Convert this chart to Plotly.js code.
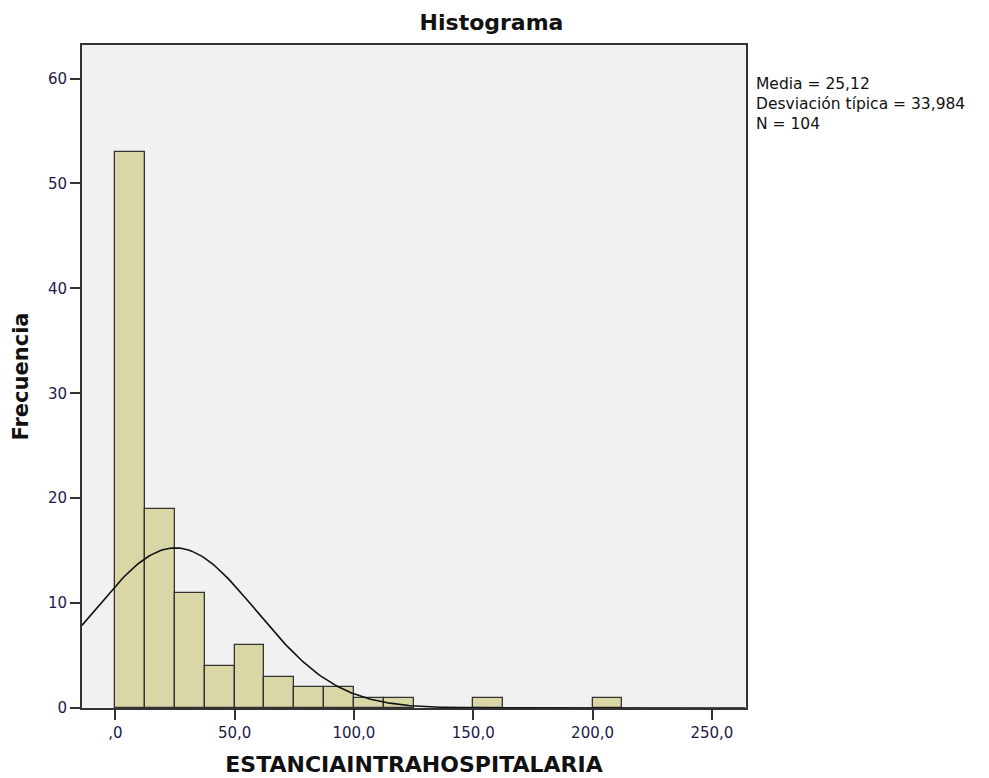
<!DOCTYPE html>
<html><head><meta charset="utf-8">
<script src="https://cdn.plot.ly/plotly-3.0.1.min.js"></script>
<style>body{margin:0;background:#fff}#chart{width:989px;height:778px}</style>
</head><body><div id="chart"></div>
<script>
// Histogram data: bin lower edges and frequencies (bin width 12.5)
var binStarts = [0, 12.5, 25, 37.5, 50, 62.5, 75, 87.5, 100, 112.5, 150, 200];
var counts    = [53, 19, 11, 4, 6, 3, 2, 2, 1, 1, 1, 1];
var binWidth = 12.5;
var mean = 25.12, sd = 33.984, nObs = 104;
var xTickVals = [0, 50, 100, 150, 200, 250];
var xTickText = [",0", "50,0", "100,0", "150,0", "200,0", "250,0"];
var yTickVals = [0, 10, 20, 30, 40, 50, 60];
var statLines = ["Media = 25,12", "Desviación típica = 33,984", "N = 104"];

var centers = binStarts.map(function(s){ return s + binWidth/2; });

// normal curve from the stated mean / sd / N
var cx = [], cy = [];
for (var x = -14; x <= 264; x += 1) {
  cx.push(x);
  cy.push(nObs * binWidth * Math.exp(-0.5*Math.pow((x-mean)/sd,2)) / (sd*Math.sqrt(2*Math.PI)));
}

var font = "DejaVu Sans, Verdana, sans-serif";
var traces = [
  {type:'bar', x:centers, y:counts, width:binWidth,
   marker:{color:'#d8d7a5', line:{color:'#333333', width:1.3}}, hoverinfo:'x+y'},
  {type:'scatter', mode:'lines', x:cx, y:cy, line:{color:'#111', width:1.6}, hoverinfo:'skip'}
];
var layout = {
  width:989, height:778,
  margin:{l:82, r:243, t:45, b:70},
  paper_bgcolor:'#ffffff', plot_bgcolor:'#f1f1f1',
  showlegend:false, bargap:0,
  title:{text:'<b>Histograma</b>', x:0.497, xref:'container', xanchor:'center', y:0.971, yref:'container', yanchor:'middle',
         font:{family:font, size:22, color:'#111'}},
  xaxis:{range:[-13.95, 264.3], tickvals:xTickVals, ticktext:xTickText,
         ticks:'outside', ticklen:10, tickwidth:2, tickcolor:'#333',
         showline:true, linecolor:'#333', linewidth:2, mirror:true, showgrid:false, zeroline:false,
         tickfont:{family:font, size:15, color:'#1a1a4a'},
         title:{text:'<b>ESTANCIAINTRAHOSPITALARIA</b>', standoff:16, font:{family:font, size:22, color:'#111'}}},
  yaxis:{range:[0, 63.2], tickvals:yTickVals,
         ticks:'outside', ticklen:10, tickwidth:2, tickcolor:'#333',
         showline:true, linecolor:'#333', linewidth:2, mirror:true, showgrid:false, zeroline:false,
         tickfont:{family:font, size:15, color:'#1a1a4a'},
         title:{text:'<b>Frecuencia</b>', standoff:14, font:{family:font, size:21, color:'#111'}}},
  annotations:[{xref:'paper', yref:'paper', x:1.014, y:0.957, xanchor:'left', yanchor:'top', align:'left',
    showarrow:false, borderpad:0, text:statLines.join('<br>'), font:{family:font, size:15.5, color:'#111'}}]
};
Plotly.newPlot('chart', traces, layout, {displayModeBar:false});
</script></body></html>
